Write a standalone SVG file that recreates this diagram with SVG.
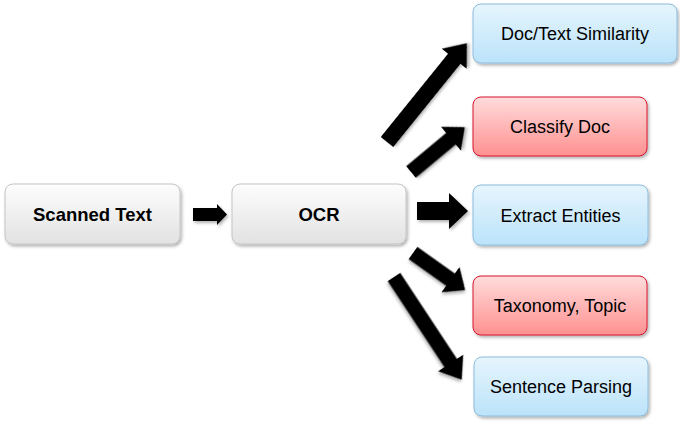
<svg xmlns="http://www.w3.org/2000/svg" width="680" height="423" viewBox="0 0 680 423">
  <defs>
    <linearGradient id="gGray" x1="0" y1="0" x2="0" y2="1">
      <stop offset="0" stop-color="#fdfdfd"/>
      <stop offset="1" stop-color="#e2e2e2"/>
    </linearGradient>
    <linearGradient id="gBlue" x1="0" y1="0" x2="0" y2="1">
      <stop offset="0" stop-color="#e6f5fd"/>
      <stop offset="1" stop-color="#bbe3fa"/>
    </linearGradient>
    <linearGradient id="gRed" x1="0" y1="0" x2="0" y2="1">
      <stop offset="0" stop-color="#ffdcdc"/>
      <stop offset="1" stop-color="#ff9090"/>
    </linearGradient>
    <filter id="shadow" x="-10%" y="-10%" width="130%" height="140%">
      <feDropShadow dx="1.5" dy="2" stdDeviation="1.5" flood-color="#000" flood-opacity="0.3"/>
    </filter>
  </defs>
  <style>
    .box { stroke-width: 1; filter: url(#shadow); }
    .gray { fill: url(#gGray); stroke: #c4c4c4; }
    .blue { fill: url(#gBlue); stroke: #8cbcdc; }
    .red { fill: url(#gRed); stroke: #d4152e; }
    .lbl { font-family: "Liberation Sans", Arial, sans-serif; font-size: 18px; fill: #000; text-anchor: middle; }
    .bold { font-weight: bold; font-size: 18.5px; }
    .arrow { fill: #000; filter: url(#shadow); }
  </style>
  <rect width="680" height="423" fill="#ffffff"/>

  <g id="connectors">
    <polygon class="arrow" points="193,208 217,208 217,204 227,214.5 217,225 217,221 193,221"/>
    <polygon class="arrow" points="417,202 449,202 449,193 468,211 449,229 449,220 417,220"/>
    <polygon class="arrow" transform="translate(387,142) rotate(-51.06)" points="0,-8 107,-8 107,-16 127,0 107,16 107,8 0,8"/>
    <polygon class="arrow" transform="translate(411,172) rotate(-39.8)" points="0,-7.5 52,-7.5 52,-15.5 70,0 52,15.5 52,7.5 0,7.5"/>
    <polygon class="arrow" transform="translate(413,253) rotate(35.4)" points="0,-7.5 46,-7.5 46,-15.5 64,0 46,15.5 46,7.5 0,7.5"/>
    <polygon class="arrow" transform="translate(394,277) rotate(56.6)" points="0,-7.5 103,-7.5 103,-15 123,0 103,15 103,7.5 0,7.5"/>
  </g>

  <g id="scanned-text">
    <rect class="box gray" x="5" y="184" width="175" height="60" rx="8"/>
    <text class="lbl bold" x="92.5" y="220.5">Scanned Text</text>
  </g>
  <g id="ocr">
    <rect class="box gray" x="232" y="184" width="174" height="60" rx="8"/>
    <text class="lbl bold" x="319" y="220.5">OCR</text>
  </g>
  <g id="doc-text-similarity">
    <rect class="box blue" x="473" y="4" width="204" height="59" rx="8"/>
    <text class="lbl" x="575" y="40">Doc/Text Similarity</text>
  </g>
  <g id="classify-doc">
    <rect class="box red" x="473" y="97" width="174" height="59" rx="8"/>
    <text class="lbl" x="560" y="133">Classify Doc</text>
  </g>
  <g id="extract-entities">
    <rect class="box blue" x="473" y="185" width="175" height="60" rx="8"/>
    <text class="lbl" x="560.5" y="221.5">Extract Entities</text>
  </g>
  <g id="taxonomy-topic">
    <rect class="box red" x="473" y="276" width="174" height="59" rx="8"/>
    <text class="lbl" x="560" y="312">Taxonomy, Topic</text>
  </g>
  <g id="sentence-parsing">
    <rect class="box blue" x="474" y="357" width="174" height="59" rx="8"/>
    <text class="lbl" x="561" y="393">Sentence Parsing</text>
  </g>
</svg>
